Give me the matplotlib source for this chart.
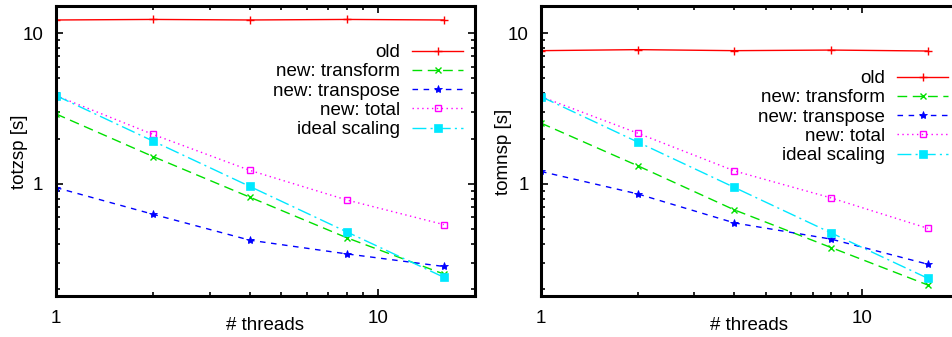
import matplotlib
matplotlib.use("Agg")
import matplotlib.pyplot as plt
from matplotlib.ticker import LogLocator, NullFormatter, FixedLocator, FixedFormatter

plt.rcParams['font.family'] = ['Liberation Sans', 'DejaVu Sans']

threads = [1, 2, 4, 8, 16]

# left panel: totzsp
totzsp_old = [12.2, 12.3, 12.2, 12.3, 12.2]
totzsp_transform = [2.91, 1.52, 0.817, 0.44, 0.253]
totzsp_transpose = [0.946, 0.63, 0.424, 0.344, 0.284]
totzsp_total = [3.85, 2.13, 1.23, 0.783, 0.538]
totzsp_ideal = [3.85, 1.925, 0.9625, 0.481, 0.241]

# right panel: tomnsp
tomnsp_old = [7.64, 7.76, 7.64, 7.71, 7.6]
tomnsp_transform = [2.53, 1.32, 0.673, 0.379, 0.214]
tomnsp_transpose = [1.21, 0.859, 0.552, 0.431, 0.294]
tomnsp_total = [3.79, 2.17, 1.22, 0.808, 0.508]
tomnsp_ideal = [3.79, 1.895, 0.948, 0.474, 0.237]

labels = ["old", "new: transform", "new: transpose", "new: total", "ideal scaling"]

W, H = 952, 337
FS = 13.5
fig = plt.figure(figsize=(W / 100, H / 100), dpi=100)


def px_axes(l, t, r, b):
    return fig.add_axes([l / W, 1 - b / H, (r - l) / W, (b - t) / H])


styles = [
    dict(color='#ff0000', linestyle='-', marker='+', ms=5.5, mew=1.0),
    dict(color='#00e000', linestyle=(0, (7, 4)), marker='x', ms=4.5, mew=1.0),
    dict(color='#0000ff', linestyle=(0, (4, 4)), marker='*', ms=6, mew=0.6),
    dict(color='#ff00ff', linestyle=(0, (1, 2.5)), marker='s', ms=5, mfc='none', mew=1.0),
    dict(color='#00e8ff', linestyle=(0, (10, 3, 1.5, 3)), marker='s', ms=5.5, mew=0.5),
]


def draw(ax, series, ylabel, legend_anchor, xlab_pos, ylab_pos):
    lines = []
    for vals, lab, st in zip(series, labels, styles):
        ln, = ax.plot(threads, vals, lw=1.0, label=lab, **st)
        lines.append(ln)
    ax.set_xscale('log')
    ax.set_yscale('log')
    ax.set_xlim(1, 20)
    ax.set_ylim(0.181, 15.1)
    ax.xaxis.set_major_locator(FixedLocator([1, 10]))
    ax.xaxis.set_major_formatter(FixedFormatter(['1', '10']))
    ax.yaxis.set_major_locator(FixedLocator([1, 10]))
    ax.yaxis.set_major_formatter(FixedFormatter(['1', '10']))
    ax.xaxis.set_minor_locator(LogLocator(base=10, subs=range(2, 10)))
    ax.yaxis.set_minor_locator(LogLocator(base=10, subs=range(2, 10)))
    ax.xaxis.set_minor_formatter(NullFormatter())
    ax.yaxis.set_minor_formatter(NullFormatter())
    ax.tick_params(which='both', direction='in', top=True, right=True,
                   labelsize=FS, width=1.2)
    ax.tick_params(which='major', length=5)
    ax.tick_params(which='minor', length=3)
    ax.tick_params(axis='x', pad=10)
    ax.tick_params(axis='y', pad=9)
    for s in ax.spines.values():
        s.set_linewidth(2.2)
    fig.text(ylab_pos[0] / W, 1 - ylab_pos[1] / H, ylabel, fontsize=FS,
             rotation=90, ha='center', va='center')
    fig.text(xlab_pos[0] / W, 1 - xlab_pos[1] / H, '# threads', fontsize=FS,
             ha='center', va='center')
    ax.legend(handles=lines, loc='upper right', bbox_to_anchor=legend_anchor,
              bbox_transform=fig.transFigure,
              frameon=False, fontsize=FS, markerfirst=False,
              handlelength=2.7, handletextpad=0.65, labelspacing=0.116,
              borderaxespad=0, borderpad=0)
    return ax


ax1 = px_axes(56, 6, 475, 296)
draw(ax1, [totzsp_old, totzsp_transform, totzsp_transpose, totzsp_total, totzsp_ideal],
     'totzsp [s]', (463 / W, 1 - 44 / H), (265, 325), (20, 152))

ax2 = px_axes(541, 6, 959, 296)
draw(ax2, [tomnsp_old, tomnsp_transform, tomnsp_transpose, tomnsp_total, tomnsp_ideal],
     'tomnsp [s]', (948 / W, 1 - 70 / H), (749, 325), (504, 152))

fig.savefig('out.png', dpi=100)
